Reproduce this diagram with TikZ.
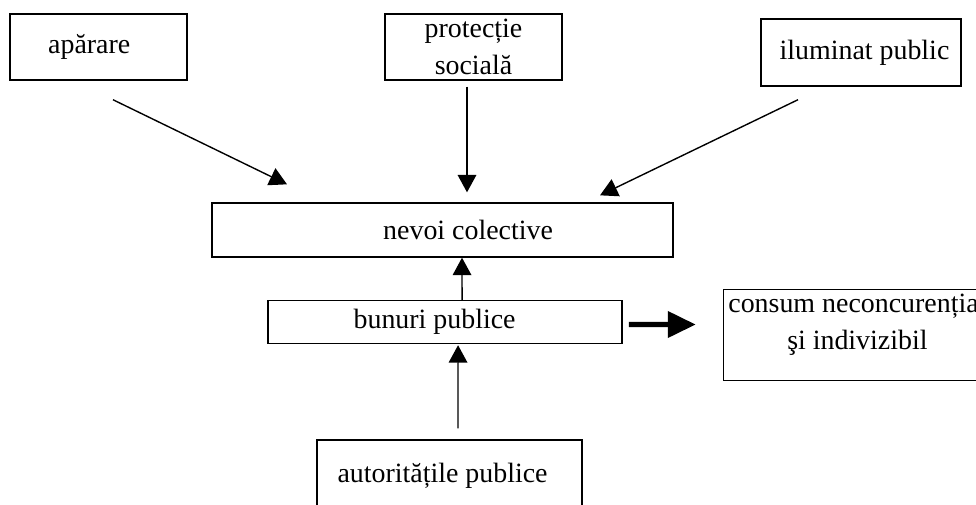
\documentclass[tikz,border=0pt]{standalone}
\usepackage{fontspec}
\setmainfont{Liberation Serif}
\usetikzlibrary{arrows.meta, positioning}

\begin{document}
\begin{tikzpicture}[
    x=0.43pt, y=-0.43pt,
    box/.style={rectangle, draw, line width=0.6pt, inner sep=0pt, align=center, font=\fontsize{12}{16}\selectfont},
    arrow/.style={-{Triangle[length=7.5pt, width=8pt]}, line width=0.6pt},
    bigarrow/.style={-{Triangle[length=12pt, width=11pt]}, line width=2.2pt},
]
    \path[use as bounding box] (0,0) rectangle (976,504);
    \clip (0,0) rectangle (976,504);

    \node[box, minimum width=76.1pt, minimum height=28.4pt] (aparare) at (98.5,47) {apărare\hspace*{8pt}};
    \node[box, minimum width=76.1pt, minimum height=28.4pt] (protectie) at (473.5,47) {protecție\\socială};
    \node[box, minimum width=86pt, minimum height=28.8pt] (iluminat) at (861,52.5) {\hspace*{3pt}iluminat public};
    \node[box, minimum width=198.2pt, minimum height=23.2pt] (nevoi) at (442.5,230) {\hspace*{22pt}nevoi colective};
    \node[box, minimum width=152.2pt, minimum height=18.5pt, below=18.1pt of nevoi, xshift=1.1pt] (bunuri) {bunuri publice\hspace*{9pt}};
    \node[box, minimum width=115.2pt, minimum height=39.1pt, text depth=11.6pt, right=43pt of bunuri, yshift=-5.6pt] (consum) {consum neconcurențial\\şi indivizibil};
    \node[box, minimum width=114pt, minimum height=31pt, below=40.9pt of bunuri, xshift=1.9pt] (autoritati) {autoritățile publice\hspace*{6pt}};

    \draw[arrow] ([shift={(14.5,19)}]aparare.south) -- ([shift={(-155.5,-18)}]nevoi.north);
    \draw[arrow] ([shift={(-6.5,6)}]protectie.south) -- ([shift={(24.5,-10)}]nevoi.north);
    \draw[arrow] ([shift={(-63,13)}]iluminat.south) -- ([shift={(157.5,-7)}]nevoi.north);
    \draw[arrow] ([xshift=17*0.43pt]bunuri.north) -- ([xshift=19.5*0.43pt]nevoi.south);
    \draw[arrow] ([shift={(8.5,-11)}]autoritati.north) -- ([shift={(13,1)}]bunuri.south);
    \draw[bigarrow] ([shift={(6,2.5)}]bunuri.east) -- ([shift={(-27,-10.5)}]consum.west);
\end{tikzpicture}
\end{document}
